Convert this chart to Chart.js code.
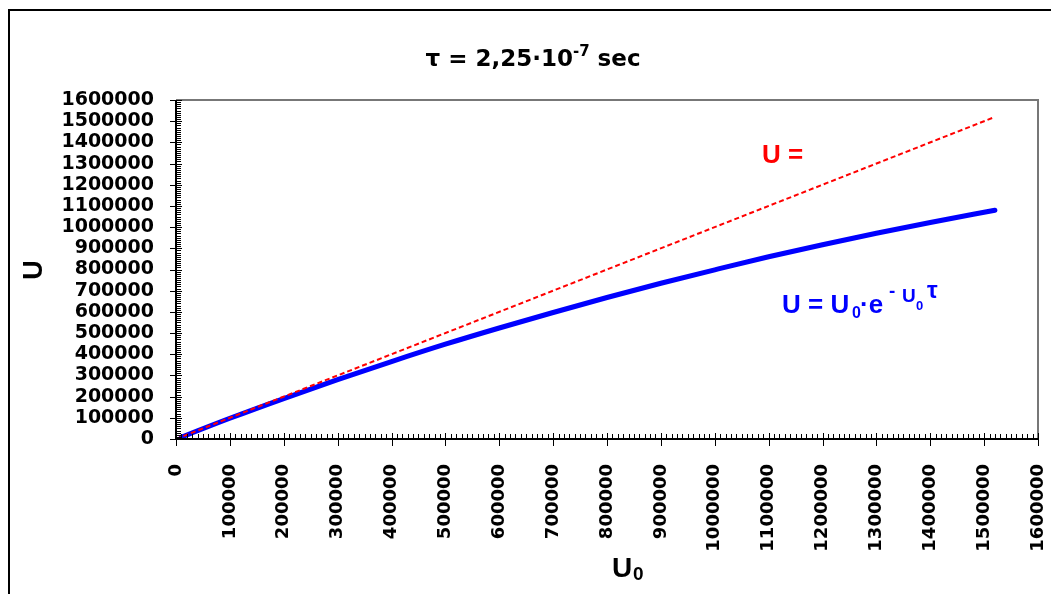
<!DOCTYPE html>
<html><head><meta charset="utf-8">
<script src="https://cdn.jsdelivr.net/npm/chart.js@4"></script>
<style>html,body{margin:0;padding:0;background:#fff;overflow:hidden}</style>
</head><body>
<canvas id="c" width="1051" height="594"></canvas>
<script>
// ---- data ----
const u0Values = [10000, 100000, 200000, 300000, 400000, 500000, 600000, 700000, 800000, 900000, 1000000, 1100000, 1200000, 1300000, 1400000, 1520000];
const uValues  = [9000, 97800, 191000, 280000, 365500, 447500, 524000, 597000, 668000, 735000, 798500, 860000, 917000, 971000, 1022000, 1080000];
const identityU0 = [0, 1520000];
const identityU  = [0, 1520000];
const axisMin = 0, axisMax = 1600000, majorStep = 100000, minorStep = 10000;

const FONT = '"Liberation Sans", Arial, sans-serif';
const WIDE = '"DejaVu Sans", sans-serif';

function drawAbs(ctx, runs, color) {
  ctx.save();
  ctx.fillStyle = color;
  ctx.textBaseline = 'alphabetic';
  ctx.textAlign = 'left';
  for (const r of runs) {
    ctx.font = 'bold ' + r.size + 'px ' + (r.fam || FONT);
    ctx.fillText(r.t, r.x, r.y);
  }
  ctx.restore();
}
function drawRuns(ctx, x, baseline, runs, color, fam) {
  ctx.save();
  ctx.fillStyle = color;
  ctx.textBaseline = 'alphabetic';
  ctx.textAlign = 'left';
  let cx = x;
  for (const r of runs) {
    ctx.font = 'bold ' + r.size + 'px ' + fam;
    ctx.fillText(r.t, cx, baseline + (r.dy || 0));
    cx += ctx.measureText(r.t).width;
  }
  ctx.restore();
}
function runsWidth(ctx, runs, fam) {
  let w = 0;
  for (const r of runs) { ctx.font = 'bold ' + r.size + 'px ' + fam; w += ctx.measureText(r.t).width; }
  return w;
}

const decor = {
  id: 'decor',
  beforeDraw(chart) {
    const ctx = chart.ctx;
    ctx.save();
    ctx.fillStyle = '#fff';
    ctx.fillRect(0, 0, chart.width, chart.height);
    ctx.strokeStyle = '#000';
    ctx.lineWidth = 2;
    ctx.beginPath();
    ctx.moveTo(9, 594); ctx.lineTo(9, 10); ctx.lineTo(1051, 10);
    ctx.stroke();
    ctx.restore();
  },
  afterDraw(chart) {
    const ctx = chart.ctx;
    const a = chart.chartArea;
    const xs = chart.scales.x, ys = chart.scales.y;
    ctx.save();
    ctx.strokeStyle = '#777';
    ctx.lineWidth = 2;
    ctx.beginPath();
    ctx.moveTo(a.left, a.top); ctx.lineTo(a.right, a.top); ctx.lineTo(a.right, a.bottom);
    ctx.stroke();
    ctx.strokeStyle = '#000';
    ctx.lineWidth = 1;
    ctx.beginPath();
    for (let v = axisMin; v <= axisMax; v += minorStep) {
      const major = v % majorStep === 0;
      const px = Math.round(xs.getPixelForValue(v)) + 0.5;
      const py = Math.round(ys.getPixelForValue(v)) + 0.5;
      if (major) {
        ctx.moveTo(px, a.bottom - 6); ctx.lineTo(px, a.bottom + 7);
        ctx.moveTo(a.left - 6, py); ctx.lineTo(a.left + 6, py);
      } else {
        ctx.moveTo(px, a.bottom - 5); ctx.lineTo(px, a.bottom);
        ctx.moveTo(a.left, py); ctx.lineTo(a.left + 5, py);
      }
    }
    ctx.stroke();
    ctx.lineWidth = 2;
    ctx.beginPath();
    ctx.moveTo(a.left, a.top); ctx.lineTo(a.left, a.bottom); ctx.lineTo(a.right, a.bottom);
    ctx.stroke();

    // title
    const titleRuns = [
      {t: 'τ = 2,25·10', size: 23},
      {t: '-7', size: 15, dy: -10},
      {t: ' sec', size: 23}
    ];
    const tw = runsWidth(ctx, titleRuns, WIDE);
    drawRuns(ctx, 533 - tw / 2, 66, titleRuns, '#000', WIDE);

    // y axis title
    ctx.save();
    ctx.translate(42, 270);
    ctx.rotate(-Math.PI / 2);
    ctx.font = 'bold 27px ' + FONT;
    ctx.fillStyle = '#000';
    ctx.textAlign = 'center';
    ctx.fillText('U', 0, 0);
    ctx.restore();

    // x axis title U0
    drawAbs(ctx, [
      {t: 'U', size: 28, x: 612, y: 577},
      {t: '0', size: 19, x: 633, y: 580}
    ], '#000');

    // red label
    drawAbs(ctx, [{t: 'U =', size: 26, x: 762, y: 163}], '#ff0000');

    // blue label
    drawAbs(ctx, [
      {t: 'U = U', size: 26, x: 782, y: 313},
      {t: '0', size: 16, x: 852, y: 318},
      {t: '·e', size: 26, x: 860, y: 313},
      {t: '-', size: 19, x: 889, y: 297},
      {t: 'U', size: 19, x: 902, y: 302},
      {t: '0', size: 13, x: 916, y: 310},
      {t: 'τ', size: 24, x: 927, y: 298}
    ], '#0000ff');
    ctx.restore();
  }
};

new Chart(document.getElementById('c'), {
  type: 'line',
  data: {
    datasets: [
      {
        label: 'U = U0',
        data: identityU0.map((x, i) => ({x, y: identityU[i]})),
        borderColor: '#ff0000',
        borderWidth: 2,
        borderDash: [5, 3],
        pointRadius: 0,
        tension: 0,
        fill: false
      },
      {
        label: 'U = U0·e^(-U0τ)',
        data: u0Values.map((x, i) => ({x, y: uValues[i]})),
        borderColor: '#0000ff',
        borderWidth: 5,
        pointRadius: 0,
        cubicInterpolationMode: 'monotone',
        fill: false,
        borderCapStyle: 'round'
      }
    ]
  },
  options: {
    responsive: false,
    animation: false,
    devicePixelRatio: 1,
    layout: {padding: {left: 0, right: 13, top: 100, bottom: 0}},
    plugins: {legend: {display: false}, title: {display: false}, tooltip: {enabled: false}},
    scales: {
      x: {
        type: 'linear', min: axisMin, max: axisMax,
        grid: {display: false, drawTicks: false},
        border: {display: false},
        ticks: {
          stepSize: majorStep, autoSkip: false, maxRotation: 90, minRotation: 90,
          padding: 25, color: '#000', font: {family: WIDE, size: 18, weight: 'bold'},
          callback: v => String(v)
        },
        afterFit: s => { s.height = 155; s.paddingLeft = 0; s.paddingRight = 0; }
      },
      y: {
        type: 'linear', min: axisMin, max: axisMax,
        grid: {display: false, drawTicks: false},
        border: {display: false},
        ticks: {
          stepSize: majorStep, autoSkip: false, padding: 22, color: '#000', font: {family: WIDE, size: 19, weight: 'bold'},
          callback: v => String(v)
        },
        afterFit: s => { s.width = 176; s.paddingTop = 0; s.paddingBottom = 0; }
      }
    }
  },
  plugins: [decor]
});
</script>
</body></html>
